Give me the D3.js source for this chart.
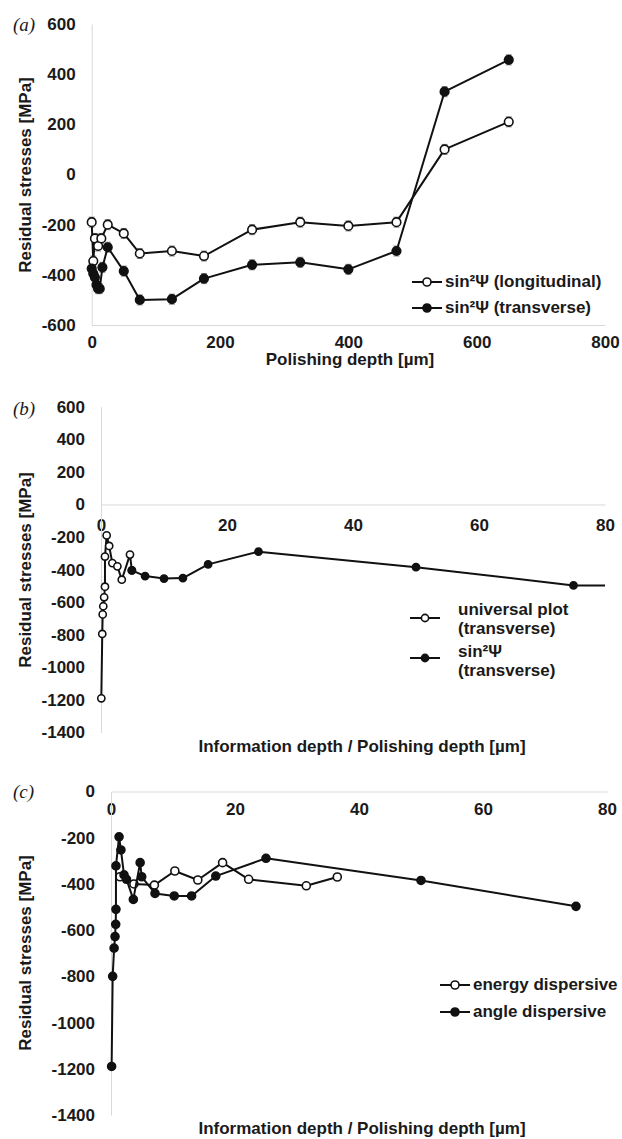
<!DOCTYPE html>
<html>
<head>
<meta charset="utf-8">
<script src="https://cdn.jsdelivr.net/npm/d3@7"></script>
<style>
body { margin: 0; background: #fff; }
svg text { font-family: "Liberation Sans", Arial, sans-serif; font-weight: bold; fill: #1a1a1a; }
</style>
</head>
<body>
<svg id="chart" width="622" height="1139"></svg>
<script>
// colours
var lcolor = '#111';
var gridcolor = '#d9d9d9';
var errcolor = '#8c8c8c';
var fontSize = 17;

// (a) polishing depth [µm] vs residual stress [MPa]
var depthLong = [0, 2.5, 5, 10, 15, 25, 50, 75, 125, 175, 250, 325, 400, 475, 550, 650];
var stressLong = [-190, -345, -255, -285, -255, -200, -235, -315, -305, -325, -220, -190, -205, -190, 100, 210];
var depthTrans = [0, 2.5, 5, 7.5, 10, 12.5, 16.7, 25, 50, 75, 125, 175, 250, 325, 400, 475, 550, 650];
var stressTrans = [-375, -395, -410, -440, -455, -455, -370, -290, -385, -500, -497, -415, -360, -350, -378, -305, 330, 457];
var errA = 20;
var ticksAx = [0, 200, 400, 600, 800];
var ticksAy = [-600, -400, -200, 0, 200, 400, 600];

// (b) information depth / polishing depth
var infoUniv = [0.05, 0.2, 0.27, 0.36, 0.5, 0.63, 0.63, 0.9, 1.3, 1.8, 2.6, 3.3, 4.6, 4.9];
var stressUniv = [-1190, -795, -675, -625, -570, -505, -320, -190, -255, -360, -380, -462, -308, -405];
var depthSin = [4.9, 7, 10, 13, 17, 25, 50, 75, 125];
var stressSin = [-405, -440, -455, -452, -368, -290, -385, -497, -497];
var ticksBx = [0, 20, 40, 60, 80];
var ticksBy = [-1400, -1200, -1000, -800, -600, -400, -200, 0, 200, 400, 600];

// (c) energy vs angle dispersive
var infoEnergy = [1.45, 3.7, 7, 10.3, 14, 18, 22.2, 31.5, 36.5];
var stressEnergy = [-369, -400, -405, -344, -383, -308, -380, -408, -370];
var infoAngle = [0.1, 0.27, 0.5, 0.65, 0.76, 0.8, 0.8, 1.3, 1.6, 2.1, 2.5, 3.6, 4.7, 4.95, 7.1, 10.2, 13, 16.9, 25, 50, 75];
var stressAngle = [-1190, -800, -678, -628, -575, -510, -322, -196, -253, -361, -380, -467, -308, -369, -441, -452, -452, -366, -289, -385, -497];
var ticksCy = [-1400, -1200, -1000, -800, -600, -400, -200, 0];

var svg = d3.select('#chart');

function zip(xs, ys) {
	return xs.map(function (x, i) { return [x, ys[i]]; });
}

function styleAxis(g) {
	g.select('.domain').attr('stroke', gridcolor).attr('stroke-width', 1);
	g.selectAll('.tick line').remove();
	g.selectAll('.tick text').attr('font-size', fontSize).attr('font-family', null);
}

function drawSeries(g, x, y, pts, filled, r, clipId) {
	var line = d3.line().x(function (d) { return x(d[0]); }).y(function (d) { return y(d[1]); });
	var s = g.append('g');
	if (clipId) s.attr('clip-path', 'url(#' + clipId + ')');
	s.append('path')
		.attr('d', line(pts))
		.attr('fill', 'none')
		.attr('stroke', lcolor)
		.attr('stroke-width', 2)
		.attr('stroke-linejoin', 'round');
	s.selectAll('circle')
		.data(pts.filter(function (d) { return d[0] <= x.domain()[1]; }))
		.enter().append('circle')
		.attr('cx', function (d) { return x(d[0]); })
		.attr('cy', function (d) { return y(d[1]); })
		.attr('r', r)
		.attr('fill', filled ? lcolor : '#fff')
		.attr('stroke', lcolor)
		.attr('stroke-width', 1.6);
}

function drawErrors(g, x, y, pts) {
	var e = g.append('g').attr('stroke', errcolor).attr('stroke-width', 1);
	pts.forEach(function (d) {
		var cx = x(d[0]);
		e.append('line').attr('x1', cx).attr('x2', cx).attr('y1', y(d[1] - errA)).attr('y2', y(d[1] + errA));
		e.append('line').attr('x1', cx - 3).attr('x2', cx + 3).attr('y1', y(d[1] - errA)).attr('y2', y(d[1] - errA));
		e.append('line').attr('x1', cx - 3).attr('x2', cx + 3).attr('y1', y(d[1] + errA)).attr('y2', y(d[1] + errA));
	});
}

function legendEntry(g, x0, y0, filled, r, lines, tx, ty) {
	g.append('line').attr('x1', x0).attr('x2', x0 + 30).attr('y1', y0).attr('y2', y0)
		.attr('stroke', lcolor).attr('stroke-width', 2);
	g.append('circle').attr('cx', x0 + 15).attr('cy', y0).attr('r', r)
		.attr('fill', filled ? lcolor : '#fff').attr('stroke', lcolor).attr('stroke-width', 1.6);
	lines.forEach(function (t, i) {
		g.append('text').attr('x', tx).attr('y', ty[i]).attr('dy', '0.35em')
			.attr('font-size', fontSize).text(t);
	});
}

function panelLabel(t, x, y) {
	svg.append('text').attr('x', x).attr('y', y).attr('dy', '0.35em')
		.style('font-family', '"Liberation Serif", "Times New Roman", serif')
		.style('font-weight', 'normal').style('font-style', 'italic')
		.attr('font-size', 19).text(t);
}

function yTitle(cx, cy) {
	svg.append('text')
		.attr('transform', 'translate(' + cx + ',' + cy + ') rotate(-90)')
		.attr('text-anchor', 'middle').attr('dy', '0.35em')
		.attr('font-size', fontSize).text('Residual stresses [MPa]');
}

function xTitle(t, cx, cy) {
	svg.append('text').attr('x', cx).attr('y', cy).attr('dy', '0.35em')
		.attr('text-anchor', 'middle').attr('font-size', fontSize).text(t);
}

function plotA() {
	var x = d3.scaleLinear().domain([0, 800]).range([91.7, 605]);
	var y = d3.scaleLinear().domain([-600, 600]).range([325, 24]);
	var g = svg.append('g');

	g.append('g').attr('transform', 'translate(0,' + y(-600) + ')')
		.call(d3.axisBottom(x).tickValues(ticksAx).tickSize(0).tickPadding(11).tickFormat(String))
		.call(styleAxis);
	g.append('g').attr('transform', 'translate(' + x(0) + ',0)')
		.call(d3.axisLeft(y).tickValues(ticksAy).tickSize(0).tickPadding(16).tickFormat(String))
		.call(styleAxis);

	var pl = zip(depthLong, stressLong), pt = zip(depthTrans, stressTrans);
	drawErrors(g, x, y, pl);
	drawErrors(g, x, y, pt);
	drawSeries(g, x, y, pl, false, 4.3);
	drawSeries(g, x, y, pt, true, 4.3);

	legendEntry(g, 412, 282, false, 4, ['sin²Ψ (longitudinal)'], 445, [281]);
	legendEntry(g, 412, 308, true, 4, ['sin²Ψ (transverse)'], 445, [307]);

	panelLabel('(a)', 13, 24);
	yTitle(25, 175);
	xTitle('Polishing depth [µm]', 350, 359);
}

function plotB() {
	var x = d3.scaleLinear().domain([0, 80]).range([101, 605]);
	var y = d3.scaleLinear().domain([-1400, 600]).range([732.5, 406.7]);
	var g = svg.append('g');

	g.append('clipPath').attr('id', 'clipB').append('rect')
		.attr('x', x(0) - 10).attr('y', y(600)).attr('width', x(80) - x(0) + 10).attr('height', y(-1400) - y(600));

	g.append('g').attr('transform', 'translate(0,' + y(0) + ')')
		.call(d3.axisBottom(x).tickValues(ticksBx).tickSize(0).tickPadding(14).tickFormat(String))
		.call(styleAxis);
	g.append('g').attr('transform', 'translate(' + x(0) + ',0)')
		.call(d3.axisLeft(y).tickValues(ticksBy).tickSize(0).tickPadding(16).tickFormat(String))
		.call(styleAxis);

	drawSeries(g, x, y, zip(infoUniv, stressUniv), false, 3.6, 'clipB');
	drawSeries(g, x, y, zip(depthSin, stressSin), true, 3.6, 'clipB');

	legendEntry(g, 410, 618, false, 3.6, ['universal plot', '(transverse)'], 458, [609, 628]);
	legendEntry(g, 410, 658, true, 3.6, ['sin²Ψ', '(transverse)'], 458, [651, 670]);

	panelLabel('(b)', 13, 408);
	yTitle(25, 570);
	xTitle('Information depth / Polishing depth [µm]', 362, 746);
}

function plotC() {
	var x = d3.scaleLinear().domain([0, 80]).range([111, 607]);
	var y = d3.scaleLinear().domain([-1400, 0]).range([1115, 791.5]);
	var g = svg.append('g');

	g.append('g').attr('transform', 'translate(0,' + y(0) + ')')
		.call(d3.axisBottom(x).tickValues(ticksBx).tickSize(0).tickPadding(11).tickFormat(String))
		.call(styleAxis);
	g.append('g').attr('transform', 'translate(' + x(0) + ',0)')
		.call(d3.axisLeft(y).tickValues(ticksCy).tickSize(0).tickPadding(16).tickFormat(String))
		.call(styleAxis);

	drawSeries(g, x, y, zip(infoEnergy, stressEnergy), false, 4);
	drawSeries(g, x, y, zip(infoAngle, stressAngle), true, 4);

	legendEntry(g, 440, 985, false, 4, ['energy dispersive'], 473, [984]);
	legendEntry(g, 440, 1012, true, 4, ['angle dispersive'], 473, [1011]);

	panelLabel('(c)', 13, 791);
	yTitle(25, 953);
	xTitle('Information depth / Polishing depth [µm]', 362, 1128);
}

function init() {
	plotA();
	plotB();
	plotC();
}

document.addEventListener('DOMContentLoaded', init, false);
</script>
</body>
</html>
